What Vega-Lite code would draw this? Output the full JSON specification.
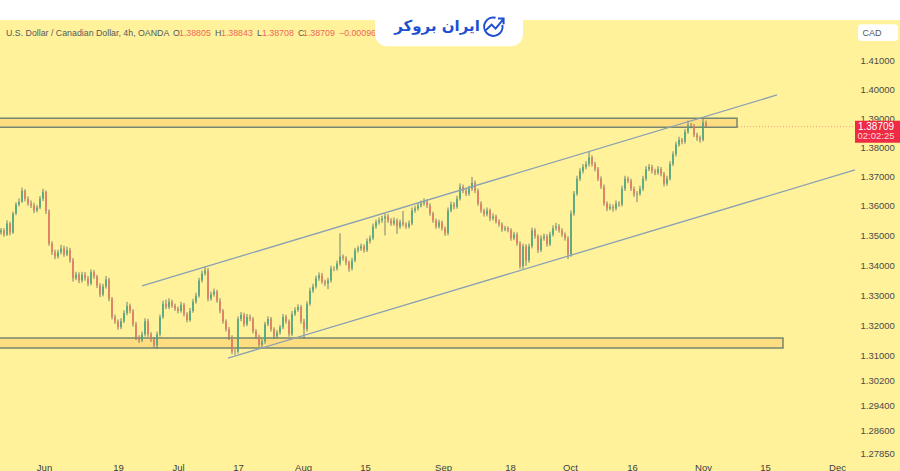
{
  "$schema": "https://vega.github.io/schema/vega-lite/v6.json",
  "description": "USD/CAD 4h candles with channel and support/resistance zones",
  "width": 900,
  "height": 471,
  "autosize": {"type": "none"},
  "padding": 0,
  "background": "#FFF29B",
  "config": {"view": {"stroke": null}},
  "datasets": {
    "candles": [
      {"bar":-43,"open":1.3510,"high":1.3525,"low":1.3502,"close":1.3517},
      {"bar":-40,"open":1.3517,"high":1.3524,"low":1.3495,"close":1.3503},
      {"bar":-37,"open":1.3503,"high":1.3551,"low":1.3498,"close":1.3540},
      {"bar":-34,"open":1.3540,"high":1.3546,"low":1.3500,"close":1.3510},
      {"bar":-31,"open":1.3510,"high":1.3580,"low":1.3505,"close":1.3574},
      {"bar":-28,"open":1.3574,"high":1.3612,"low":1.3568,"close":1.3604},
      {"bar":-25,"open":1.3604,"high":1.3625,"low":1.3598,"close":1.3614},
      {"bar":-22,"open":1.3614,"high":1.3662,"low":1.3610,"close":1.3651},
      {"bar":-19,"open":1.3651,"high":1.3656,"low":1.3615,"close":1.3624},
      {"bar":-16,"open":1.3624,"high":1.3632,"low":1.3600,"close":1.3608},
      {"bar":-13,"open":1.3608,"high":1.3618,"low":1.3592,"close":1.3601},
      {"bar":-10,"open":1.3601,"high":1.3610,"low":1.3575,"close":1.3584},
      {"bar":-7,"open":1.3584,"high":1.3602,"low":1.3578,"close":1.3594},
      {"bar":-4,"open":1.3594,"high":1.3633,"low":1.3588,"close":1.3624},
      {"bar":-1,"open":1.3624,"high":1.3658,"low":1.3616,"close":1.3648},
      {"bar":2,"open":1.3648,"high":1.3652,"low":1.3572,"close":1.3581},
      {"bar":5,"open":1.3581,"high":1.3588,"low":1.3465,"close":1.3473},
      {"bar":8,"open":1.3473,"high":1.3480,"low":1.3434,"close":1.3443},
      {"bar":11,"open":1.3443,"high":1.3452,"low":1.3420,"close":1.3429},
      {"bar":14,"open":1.3429,"high":1.3452,"low":1.3422,"close":1.3443},
      {"bar":17,"open":1.3443,"high":1.3468,"low":1.3436,"close":1.3456},
      {"bar":20,"open":1.3456,"high":1.3465,"low":1.3428,"close":1.3436},
      {"bar":23,"open":1.3436,"high":1.3462,"low":1.3430,"close":1.3450},
      {"bar":26,"open":1.3450,"high":1.3458,"low":1.3408,"close":1.3416},
      {"bar":29,"open":1.3416,"high":1.3424,"low":1.3345,"close":1.3356},
      {"bar":32,"open":1.3356,"high":1.3378,"low":1.3350,"close":1.3369},
      {"bar":35,"open":1.3369,"high":1.3376,"low":1.3340,"close":1.3349},
      {"bar":38,"open":1.3349,"high":1.3378,"low":1.3342,"close":1.3369},
      {"bar":41,"open":1.3369,"high":1.3377,"low":1.3348,"close":1.3356},
      {"bar":44,"open":1.3356,"high":1.3364,"low":1.3330,"close":1.3339},
      {"bar":47,"open":1.3339,"high":1.3386,"low":1.3333,"close":1.3376},
      {"bar":50,"open":1.3376,"high":1.3384,"low":1.3354,"close":1.3362},
      {"bar":53,"open":1.3362,"high":1.3368,"low":1.3324,"close":1.3332},
      {"bar":56,"open":1.3332,"high":1.3340,"low":1.3294,"close":1.3302},
      {"bar":59,"open":1.3302,"high":1.3338,"low":1.3296,"close":1.3329},
      {"bar":62,"open":1.3329,"high":1.3364,"low":1.3322,"close":1.3352},
      {"bar":65,"open":1.3352,"high":1.3358,"low":1.3280,"close":1.3288},
      {"bar":68,"open":1.3288,"high":1.3294,"low":1.3220,"close":1.3228},
      {"bar":71,"open":1.3228,"high":1.3236,"low":1.3205,"close":1.3214},
      {"bar":74,"open":1.3214,"high":1.3220,"low":1.3186,"close":1.3194},
      {"bar":77,"open":1.3194,"high":1.3224,"low":1.3188,"close":1.3214},
      {"bar":80,"open":1.3214,"high":1.3250,"low":1.3208,"close":1.3241},
      {"bar":83,"open":1.3241,"high":1.3278,"low":1.3234,"close":1.3265},
      {"bar":86,"open":1.3265,"high":1.3272,"low":1.3240,"close":1.3248},
      {"bar":89,"open":1.3248,"high":1.3254,"low":1.3196,"close":1.3204},
      {"bar":92,"open":1.3204,"high":1.3212,"low":1.3152,"close":1.3161},
      {"bar":95,"open":1.3161,"high":1.3168,"low":1.3143,"close":1.3151},
      {"bar":98,"open":1.3151,"high":1.3180,"low":1.3145,"close":1.3171},
      {"bar":101,"open":1.3171,"high":1.3224,"low":1.3164,"close":1.3214},
      {"bar":104,"open":1.3214,"high":1.3222,"low":1.3163,"close":1.3171},
      {"bar":107,"open":1.3171,"high":1.3178,"low":1.3146,"close":1.3154},
      {"bar":110,"open":1.3154,"high":1.3160,"low":1.3126,"close":1.3134},
      {"bar":113,"open":1.3134,"high":1.3180,"low":1.3123,"close":1.3171},
      {"bar":116,"open":1.3171,"high":1.3236,"low":1.3164,"close":1.3228},
      {"bar":119,"open":1.3228,"high":1.3282,"low":1.3222,"close":1.3272},
      {"bar":122,"open":1.3272,"high":1.3286,"low":1.3254,"close":1.3261},
      {"bar":125,"open":1.3261,"high":1.3290,"low":1.3254,"close":1.3278},
      {"bar":128,"open":1.3278,"high":1.3285,"low":1.3258,"close":1.3265},
      {"bar":131,"open":1.3265,"high":1.3272,"low":1.3248,"close":1.3255},
      {"bar":134,"open":1.3255,"high":1.3262,"low":1.3240,"close":1.3248},
      {"bar":137,"open":1.3248,"high":1.3278,"low":1.3242,"close":1.3268},
      {"bar":140,"open":1.3268,"high":1.3274,"low":1.3230,"close":1.3238},
      {"bar":143,"open":1.3238,"high":1.3244,"low":1.3210,"close":1.3218},
      {"bar":146,"open":1.3218,"high":1.3258,"low":1.3212,"close":1.3248},
      {"bar":149,"open":1.3248,"high":1.3288,"low":1.3242,"close":1.3278},
      {"bar":152,"open":1.3278,"high":1.3308,"low":1.3272,"close":1.3298},
      {"bar":155,"open":1.3298,"high":1.3358,"low":1.3292,"close":1.3349},
      {"bar":158,"open":1.3349,"high":1.3382,"low":1.3342,"close":1.3372},
      {"bar":161,"open":1.3372,"high":1.3396,"low":1.3365,"close":1.3382},
      {"bar":164,"open":1.3382,"high":1.3390,"low":1.3280,"close":1.3288},
      {"bar":167,"open":1.3288,"high":1.3312,"low":1.3282,"close":1.3302},
      {"bar":170,"open":1.3302,"high":1.3322,"low":1.3295,"close":1.3312},
      {"bar":173,"open":1.3312,"high":1.3318,"low":1.3275,"close":1.3282},
      {"bar":176,"open":1.3282,"high":1.3290,"low":1.3240,"close":1.3248},
      {"bar":179,"open":1.3248,"high":1.3254,"low":1.3206,"close":1.3214},
      {"bar":182,"open":1.3214,"high":1.3220,"low":1.3180,"close":1.3188},
      {"bar":185,"open":1.3188,"high":1.3195,"low":1.3152,"close":1.3161},
      {"bar":188,"open":1.3161,"high":1.3168,"low":1.3106,"close":1.3114},
      {"bar":191,"open":1.3114,"high":1.3122,"low":1.3104,"close":1.3114},
      {"bar":194,"open":1.3114,"high":1.3230,"low":1.3108,"close":1.3221},
      {"bar":197,"open":1.3221,"high":1.3244,"low":1.3214,"close":1.3235},
      {"bar":200,"open":1.3235,"high":1.3242,"low":1.3196,"close":1.3204},
      {"bar":203,"open":1.3204,"high":1.3238,"low":1.3198,"close":1.3228},
      {"bar":206,"open":1.3228,"high":1.3236,"low":1.3214,"close":1.3221},
      {"bar":209,"open":1.3221,"high":1.3228,"low":1.3174,"close":1.3181},
      {"bar":212,"open":1.3181,"high":1.3188,"low":1.3156,"close":1.3164},
      {"bar":215,"open":1.3164,"high":1.3170,"low":1.3130,"close":1.3137},
      {"bar":218,"open":1.3137,"high":1.3155,"low":1.3128,"close":1.3147},
      {"bar":221,"open":1.3147,"high":1.3212,"low":1.3140,"close":1.3204},
      {"bar":224,"open":1.3204,"high":1.3230,"low":1.3198,"close":1.3221},
      {"bar":227,"open":1.3221,"high":1.3228,"low":1.3180,"close":1.3188},
      {"bar":230,"open":1.3188,"high":1.3194,"low":1.3156,"close":1.3164},
      {"bar":233,"open":1.3164,"high":1.3185,"low":1.3158,"close":1.3177},
      {"bar":236,"open":1.3177,"high":1.3202,"low":1.3170,"close":1.3194},
      {"bar":239,"open":1.3194,"high":1.3238,"low":1.3188,"close":1.3228},
      {"bar":242,"open":1.3228,"high":1.3235,"low":1.3206,"close":1.3214},
      {"bar":245,"open":1.3214,"high":1.3220,"low":1.3163,"close":1.3171},
      {"bar":248,"open":1.3171,"high":1.3248,"low":1.3165,"close":1.3238},
      {"bar":251,"open":1.3238,"high":1.3260,"low":1.3231,"close":1.3251},
      {"bar":254,"open":1.3251,"high":1.3270,"low":1.3245,"close":1.3261},
      {"bar":257,"open":1.3261,"high":1.3268,"low":1.3206,"close":1.3214},
      {"bar":260,"open":1.3214,"high":1.3222,"low":1.3157,"close":1.3188},
      {"bar":263,"open":1.3188,"high":1.3280,"low":1.3180,"close":1.3272},
      {"bar":266,"open":1.3272,"high":1.3325,"low":1.3265,"close":1.3315},
      {"bar":269,"open":1.3315,"high":1.3338,"low":1.3308,"close":1.3329},
      {"bar":272,"open":1.3329,"high":1.3365,"low":1.3322,"close":1.3356},
      {"bar":275,"open":1.3356,"high":1.3376,"low":1.3348,"close":1.3366},
      {"bar":278,"open":1.3366,"high":1.3374,"low":1.3338,"close":1.3345},
      {"bar":281,"open":1.3345,"high":1.3352,"low":1.3330,"close":1.3339},
      {"bar":284,"open":1.3339,"high":1.3358,"low":1.3320,"close":1.3349},
      {"bar":287,"open":1.3349,"high":1.3398,"low":1.3342,"close":1.3389},
      {"bar":290,"open":1.3389,"high":1.3396,"low":1.3380,"close":1.3389},
      {"bar":293,"open":1.3389,"high":1.3415,"low":1.3382,"close":1.3406},
      {"bar":296,"open":1.3406,"high":1.3507,"low":1.3398,"close":1.3429},
      {"bar":299,"open":1.3429,"high":1.3436,"low":1.3415,"close":1.3423},
      {"bar":302,"open":1.3423,"high":1.3430,"low":1.3400,"close":1.3409},
      {"bar":305,"open":1.3409,"high":1.3415,"low":1.3378,"close":1.3389},
      {"bar":308,"open":1.3389,"high":1.3425,"low":1.3382,"close":1.3416},
      {"bar":311,"open":1.3416,"high":1.3458,"low":1.3410,"close":1.3450},
      {"bar":314,"open":1.3450,"high":1.3465,"low":1.3442,"close":1.3456},
      {"bar":317,"open":1.3456,"high":1.3472,"low":1.3448,"close":1.3463},
      {"bar":320,"open":1.3463,"high":1.3470,"low":1.3442,"close":1.3450},
      {"bar":323,"open":1.3450,"high":1.3490,"low":1.3444,"close":1.3480},
      {"bar":326,"open":1.3480,"high":1.3500,"low":1.3472,"close":1.3490},
      {"bar":329,"open":1.3490,"high":1.3540,"low":1.3484,"close":1.3530},
      {"bar":332,"open":1.3530,"high":1.3553,"low":1.3522,"close":1.3544},
      {"bar":335,"open":1.3544,"high":1.3560,"low":1.3536,"close":1.3550},
      {"bar":338,"open":1.3550,"high":1.3566,"low":1.3542,"close":1.3557},
      {"bar":341,"open":1.3557,"high":1.3574,"low":1.3500,"close":1.3564},
      {"bar":344,"open":1.3564,"high":1.3572,"low":1.3542,"close":1.3550},
      {"bar":347,"open":1.3550,"high":1.3558,"low":1.3532,"close":1.3540},
      {"bar":350,"open":1.3540,"high":1.3560,"low":1.3533,"close":1.3550},
      {"bar":353,"open":1.3550,"high":1.3557,"low":1.3505,"close":1.3530},
      {"bar":356,"open":1.3530,"high":1.3553,"low":1.3522,"close":1.3544},
      {"bar":359,"open":1.3544,"high":1.3582,"low":1.3530,"close":1.3537},
      {"bar":362,"open":1.3537,"high":1.3544,"low":1.3522,"close":1.3530},
      {"bar":365,"open":1.3530,"high":1.3550,"low":1.3523,"close":1.3540},
      {"bar":368,"open":1.3540,"high":1.3594,"low":1.3534,"close":1.3584},
      {"bar":371,"open":1.3584,"high":1.3600,"low":1.3576,"close":1.3591},
      {"bar":374,"open":1.3591,"high":1.3610,"low":1.3584,"close":1.3601},
      {"bar":377,"open":1.3601,"high":1.3618,"low":1.3594,"close":1.3608},
      {"bar":380,"open":1.3608,"high":1.3625,"low":1.3600,"close":1.3614},
      {"bar":383,"open":1.3614,"high":1.3622,"low":1.3592,"close":1.3601},
      {"bar":386,"open":1.3601,"high":1.3608,"low":1.3566,"close":1.3574},
      {"bar":389,"open":1.3574,"high":1.3580,"low":1.3542,"close":1.3550},
      {"bar":392,"open":1.3550,"high":1.3557,"low":1.3522,"close":1.3530},
      {"bar":395,"open":1.3530,"high":1.3553,"low":1.3523,"close":1.3544},
      {"bar":398,"open":1.3544,"high":1.3550,"low":1.3516,"close":1.3524},
      {"bar":401,"open":1.3524,"high":1.3530,"low":1.3498,"close":1.3507},
      {"bar":404,"open":1.3507,"high":1.3594,"low":1.3500,"close":1.3584},
      {"bar":407,"open":1.3584,"high":1.3614,"low":1.3578,"close":1.3604},
      {"bar":410,"open":1.3604,"high":1.3612,"low":1.3588,"close":1.3597},
      {"bar":413,"open":1.3597,"high":1.3634,"low":1.3590,"close":1.3624},
      {"bar":416,"open":1.3624,"high":1.3676,"low":1.3618,"close":1.3665},
      {"bar":419,"open":1.3665,"high":1.3672,"low":1.3643,"close":1.3651},
      {"bar":422,"open":1.3651,"high":1.3658,"low":1.3633,"close":1.3641},
      {"bar":425,"open":1.3641,"high":1.3668,"low":1.3634,"close":1.3658},
      {"bar":428,"open":1.3658,"high":1.3698,"low":1.3650,"close":1.3678},
      {"bar":431,"open":1.3678,"high":1.3686,"low":1.3643,"close":1.3651},
      {"bar":434,"open":1.3651,"high":1.3658,"low":1.3600,"close":1.3608},
      {"bar":437,"open":1.3608,"high":1.3615,"low":1.3576,"close":1.3584},
      {"bar":440,"open":1.3584,"high":1.3590,"low":1.3563,"close":1.3571},
      {"bar":443,"open":1.3571,"high":1.3594,"low":1.3564,"close":1.3584},
      {"bar":446,"open":1.3584,"high":1.3590,"low":1.3548,"close":1.3557},
      {"bar":449,"open":1.3557,"high":1.3574,"low":1.3550,"close":1.3564},
      {"bar":452,"open":1.3564,"high":1.3570,"low":1.3540,"close":1.3547},
      {"bar":455,"open":1.3547,"high":1.3554,"low":1.3529,"close":1.3537},
      {"bar":458,"open":1.3537,"high":1.3544,"low":1.3512,"close":1.3520},
      {"bar":461,"open":1.3520,"high":1.3532,"low":1.3514,"close":1.3524},
      {"bar":464,"open":1.3524,"high":1.3530,"low":1.3510,"close":1.3517},
      {"bar":467,"open":1.3517,"high":1.3524,"low":1.3482,"close":1.3490},
      {"bar":470,"open":1.3490,"high":1.3512,"low":1.3484,"close":1.3503},
      {"bar":473,"open":1.3503,"high":1.3510,"low":1.3465,"close":1.3473},
      {"bar":476,"open":1.3473,"high":1.3480,"low":1.3388,"close":1.3396},
      {"bar":479,"open":1.3396,"high":1.3472,"low":1.3388,"close":1.3463},
      {"bar":482,"open":1.3463,"high":1.3470,"low":1.3398,"close":1.3416},
      {"bar":485,"open":1.3416,"high":1.3472,"low":1.3408,"close":1.3463},
      {"bar":488,"open":1.3463,"high":1.3526,"low":1.3456,"close":1.3517},
      {"bar":491,"open":1.3517,"high":1.3524,"low":1.3489,"close":1.3497},
      {"bar":494,"open":1.3497,"high":1.3503,"low":1.3441,"close":1.3450},
      {"bar":497,"open":1.3450,"high":1.3500,"low":1.3444,"close":1.3490},
      {"bar":500,"open":1.3490,"high":1.3506,"low":1.3482,"close":1.3497},
      {"bar":503,"open":1.3497,"high":1.3504,"low":1.3462,"close":1.3470},
      {"bar":506,"open":1.3470,"high":1.3512,"low":1.3464,"close":1.3503},
      {"bar":509,"open":1.3503,"high":1.3534,"low":1.3496,"close":1.3524},
      {"bar":512,"open":1.3524,"high":1.3542,"low":1.3516,"close":1.3530},
      {"bar":515,"open":1.3530,"high":1.3538,"low":1.3509,"close":1.3517},
      {"bar":518,"open":1.3517,"high":1.3524,"low":1.3495,"close":1.3503},
      {"bar":521,"open":1.3503,"high":1.3510,"low":1.3482,"close":1.3490},
      {"bar":524,"open":1.3490,"high":1.3497,"low":1.3420,"close":1.3436},
      {"bar":527,"open":1.3436,"high":1.3584,"low":1.3428,"close":1.3574},
      {"bar":530,"open":1.3574,"high":1.3650,"low":1.3566,"close":1.3641},
      {"bar":533,"open":1.3641,"high":1.3702,"low":1.3634,"close":1.3692},
      {"bar":536,"open":1.3692,"high":1.3728,"low":1.3684,"close":1.3718},
      {"bar":539,"open":1.3718,"high":1.3742,"low":1.3710,"close":1.3732},
      {"bar":542,"open":1.3732,"high":1.3752,"low":1.3724,"close":1.3742},
      {"bar":545,"open":1.3742,"high":1.3785,"low":1.3734,"close":1.3765},
      {"bar":548,"open":1.3765,"high":1.3772,"low":1.3734,"close":1.3742},
      {"bar":551,"open":1.3742,"high":1.3750,"low":1.3717,"close":1.3725},
      {"bar":554,"open":1.3725,"high":1.3732,"low":1.3684,"close":1.3692},
      {"bar":557,"open":1.3692,"high":1.3700,"low":1.3657,"close":1.3665},
      {"bar":560,"open":1.3665,"high":1.3672,"low":1.3600,"close":1.3608},
      {"bar":563,"open":1.3608,"high":1.3615,"low":1.3582,"close":1.3591},
      {"bar":566,"open":1.3591,"high":1.3607,"low":1.3585,"close":1.3597},
      {"bar":569,"open":1.3597,"high":1.3604,"low":1.3580,"close":1.3591},
      {"bar":572,"open":1.3591,"high":1.3618,"low":1.3584,"close":1.3608},
      {"bar":575,"open":1.3608,"high":1.3615,"low":1.3596,"close":1.3604},
      {"bar":578,"open":1.3604,"high":1.3668,"low":1.3598,"close":1.3658},
      {"bar":581,"open":1.3658,"high":1.3702,"low":1.3650,"close":1.3692},
      {"bar":584,"open":1.3692,"high":1.3699,"low":1.3677,"close":1.3685},
      {"bar":587,"open":1.3685,"high":1.3692,"low":1.3650,"close":1.3658},
      {"bar":590,"open":1.3658,"high":1.3665,"low":1.3630,"close":1.3638},
      {"bar":593,"open":1.3638,"high":1.3650,"low":1.3612,"close":1.3641},
      {"bar":596,"open":1.3641,"high":1.3668,"low":1.3634,"close":1.3658},
      {"bar":599,"open":1.3658,"high":1.3702,"low":1.3650,"close":1.3692},
      {"bar":602,"open":1.3692,"high":1.3735,"low":1.3684,"close":1.3725},
      {"bar":605,"open":1.3725,"high":1.3742,"low":1.3718,"close":1.3732},
      {"bar":608,"open":1.3732,"high":1.3740,"low":1.3710,"close":1.3718},
      {"bar":611,"open":1.3718,"high":1.3726,"low":1.3704,"close":1.3712},
      {"bar":614,"open":1.3712,"high":1.3735,"low":1.3705,"close":1.3725},
      {"bar":617,"open":1.3725,"high":1.3732,"low":1.3700,"close":1.3708},
      {"bar":620,"open":1.3708,"high":1.3715,"low":1.3666,"close":1.3675},
      {"bar":623,"open":1.3675,"high":1.3702,"low":1.3668,"close":1.3692},
      {"bar":626,"open":1.3692,"high":1.3752,"low":1.3686,"close":1.3742},
      {"bar":629,"open":1.3742,"high":1.3786,"low":1.3735,"close":1.3776},
      {"bar":632,"open":1.3776,"high":1.3819,"low":1.3768,"close":1.3809},
      {"bar":635,"open":1.3809,"high":1.3836,"low":1.3802,"close":1.3826},
      {"bar":638,"open":1.3826,"high":1.3832,"low":1.3810,"close":1.3819},
      {"bar":641,"open":1.3819,"high":1.3863,"low":1.3812,"close":1.3853},
      {"bar":644,"open":1.3853,"high":1.3892,"low":1.3846,"close":1.3876},
      {"bar":647,"open":1.3876,"high":1.3884,"low":1.3865,"close":1.3873},
      {"bar":650,"open":1.3873,"high":1.3880,"low":1.3835,"close":1.3843},
      {"bar":653,"open":1.3843,"high":1.3850,"low":1.3822,"close":1.3833},
      {"bar":656,"open":1.3833,"high":1.3840,"low":1.3816,"close":1.3826},
      {"bar":659,"open":1.3826,"high":1.3898,"low":1.3820,"close":1.3886},
      {"bar":662,"open":1.3884,"high":1.3892,"low":1.3868,"close":1.3871}
    ],
    "zones": [
      {"bar":-60,"bar2":693,"price":1.3900,"price2":1.3869},
      {"bar":-60,"bar2":739,"price":1.3159,"price2":1.3126}
    ],
    "channel": [
      {"line":"upper","bar":98,"price":1.3331},
      {"line":"upper","bar":733,"price":1.3981},
      {"line":"lower","bar":184,"price":1.3093},
      {"line":"lower","bar":811,"price":1.3722}
    ],
    "header": [
      {"label":"U.S. Dollar / Canadian Dollar, 4h, OANDA","bar":-38,"price":1.4198},
      {"label":"O","bar":129,"price":1.4198},
      {"label":"H","bar":171,"price":1.4198},
      {"label":"L","bar":213,"price":1.4198},
      {"label":"C","bar":254,"price":1.4198}
    ],
    "values": [
      {"label":"1.38805","bar":135,"price":1.4198},
      {"label":"1.38843","bar":177,"price":1.4198},
      {"label":"1.38708","bar":218,"price":1.4198},
      {"label":"1.38709","bar":259,"price":1.4198},
      {"label":"−0.00096","bar":295,"price":1.4198}
    ]
  },
  "data": {"name": "candles"},
  "encoding": {
    "x": {
      "field": "bar",
      "type": "quantitative",
      "title": null,
      "scale": {"domain": [-44, 856], "nice": false, "zero": false},
      "axis": {
        "orient": "bottom",
        "values": [0, 74, 134, 194, 259, 321, 399, 466, 526, 588, 659, 721, 793],
        "labelExpr": "{'0':'Jun','74':'19','134':'Jul','194':'17','259':'Aug','321':'15','399':'Sep','466':'18','526':'Oct','588':'16','659':'Nov','721':'15','793':'Dec'}[''+datum.value]",
        "labelPadding": -4,
        "labelBaseline": "middle",
        "labelFont": "Liberation Sans",
        "labelFontSize": 9.5,
        "labelColor": "#3c3c3c",
        "ticks": false,
        "domain": false,
        "grid": false,
        "labelFlush": false,
        "labelOverlap": false
      }
    },
    "y": {
      "field": "price",
      "type": "quantitative",
      "title": null,
      "scale": {"type": "log", "domain": [1.27296, 1.4316], "nice": false, "zero": false},
      "axis": {
        "orient": "right",
        "values": [1.2785, 1.286, 1.294, 1.302, 1.31, 1.32, 1.33, 1.34, 1.35, 1.36, 1.37, 1.38, 1.39, 1.4, 1.41],
        "format": ".5f",
        "labelPadding": -40,
        "labelAlign": "left",
        "labelFont": "Liberation Sans",
        "labelFontSize": 9.5,
        "labelColor": "#4a4a4a",
        "ticks": false,
        "domain": false,
        "grid": false,
        "labelOverlap": false
      }
    }
  },
  "layer": [
    {
      "data": {"values": [{"bar": -44, "bar2": 856, "price": 1.4316, "price2": 1.4245}]},
      "mark": {"type": "rect", "color": "#ffffff"},
      "encoding": {"x2": {"field": "bar2"}, "y2": {"field": "price2"}}
    },
    {
      "data": {"values": [{"bar": -44, "price": 1.38709}, {"bar": 811, "price": 1.38709}]},
      "mark": {"type": "line", "color": "#f5a27c", "strokeWidth": 1, "strokeDash": [1, 2]}
    },
    {
      "data": {"name": "zones"},
      "mark": {"type": "rect", "fill": "#FFDE82", "stroke": "#76866f", "strokeWidth": 1.5, "clip": true},
      "encoding": {"x2": {"field": "bar2"}, "y2": {"field": "price2"}}
    },
    {
      "mark": {"type": "rule", "color": "#5f6f6a", "strokeWidth": 1, "opacity": 0.85},
      "encoding": {
        "y": {"field": "low", "type": "quantitative", "scale": {"type": "log", "domain": [1.27296, 1.4316], "nice": false, "zero": false}},
        "y2": {"field": "high"}
      }
    },
    {
      "mark": {"type": "rule", "strokeWidth": 1.6},
      "encoding": {
        "y": {"field": "open", "type": "quantitative", "scale": {"type": "log", "domain": [1.27296, 1.4316], "nice": false, "zero": false}},
        "y2": {"field": "close"},
        "color": {"condition": {"test": "datum.close >= datum.open", "value": "#48a882"}, "value": "#e9775f"}
      }
    },
    {
      "data": {"name": "channel"},
      "mark": {"type": "line", "color": "#8ba0b4", "strokeWidth": 1.3},
      "encoding": {"detail": {"field": "line"}}
    },
    {
      "data": {"values": [{"bar": 811, "bar2": 856, "price": 1.3891, "price2": 1.3815}]},
      "mark": {"type": "rect", "color": "#EE2A45"},
      "encoding": {"x2": {"field": "bar2"}, "y2": {"field": "price2"}}
    },
    {
      "data": {"values": [{"bar": 814, "bar2": 854, "price": 1.4230, "price2": 1.4170}]},
      "mark": {"type": "rect", "fill": "#ffffff", "cornerRadius": 3},
      "encoding": {"x2": {"field": "bar2"}, "y2": {"field": "price2"}}
    },
    {
      "data": {"values": [{"label": "CAD", "bar": 828, "price": 1.4200}]},
      "mark": {"type": "text", "font": "Liberation Sans", "fontSize": 9, "color": "#555555", "align": "center", "baseline": "middle"},
      "encoding": {"text": {"field": "label"}}
    },
    {
      "data": {"values": [{"label": "1.38709", "bar": 832, "price": 1.3871}]},
      "mark": {"type": "text", "font": "Liberation Sans", "fontSize": 10, "color": "#ffffff", "align": "center", "baseline": "middle"},
      "encoding": {"text": {"field": "label"}}
    },
    {
      "data": {"values": [{"label": "02:02:25", "bar": 832, "price": 1.3837}]},
      "mark": {"type": "text", "font": "Liberation Sans", "fontSize": 9.5, "color": "#ffd5da", "align": "center", "baseline": "middle"},
      "encoding": {"text": {"field": "label"}}
    },
    {
      "data": {"name": "header"},
      "mark": {"type": "text", "font": "Liberation Sans", "fontSize": 8.8, "color": "#55595c", "align": "left", "baseline": "middle"},
      "encoding": {"text": {"field": "label"}}
    },
    {
      "data": {"name": "values"},
      "mark": {"type": "text", "font": "Liberation Sans", "fontSize": 8.8, "color": "#f0685a", "align": "left", "baseline": "middle"},
      "encoding": {"text": {"field": "label"}}
    },
    {
      "data": {"values": [{"bar": 331, "bar2": 479, "price": 1.4400, "price2": 1.4152}]},
      "mark": {"type": "rect", "color": "#ffffff", "cornerRadius": 12, "clip": true},
      "encoding": {"x2": {"field": "bar2"}, "y2": {"field": "price2"}}
    },
    {
      "data": {"values": [{"label": "ایران بروکر", "bar": 393, "price": 1.4222}]},
      "mark": {"type": "text", "font": "DejaVu Sans", "fontSize": 15, "fontWeight": "bold", "color": "#1F4FD0", "align": "center", "baseline": "middle"},
      "encoding": {"text": {"field": "label"}}
    },
    {
      "data": {"values": [{"bar": 450, "price": 1.4220}]},
      "mark": {
        "type": "point",
        "filled": false,
        "size": 1600,
        "color": "#1F4FD0",
        "strokeWidth": 2,
        "opacity": 1,
        "shape": "M0.42,-0.1 A0.46,0.46 0 1 1 0.08,-0.46 M-0.4,0.15 L-0.12,-0.12 L0.08,0.08 L0.46,-0.38 M0.2,-0.42 L0.48,-0.42 L0.48,-0.14"
      }
    }
  ]
}
